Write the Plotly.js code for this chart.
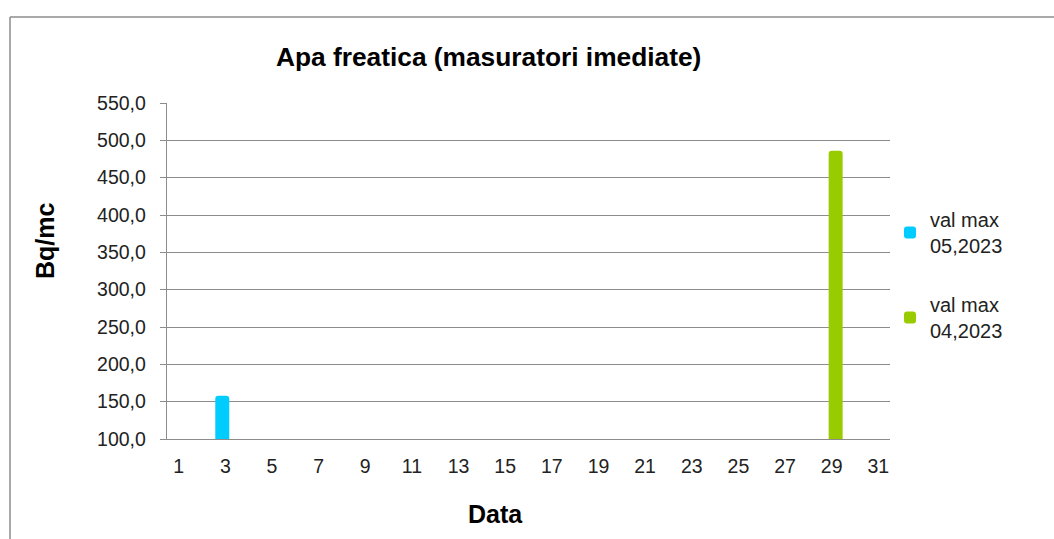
<!DOCTYPE html>
<html>
<head>
<meta charset="utf-8">
<script src="https://cdn.plot.ly/plotly-3.0.1.min.js"></script>
<style>html,body{margin:0;padding:0;background:#fff;}#chart{width:1054px;height:539px;}</style>
</head>
<body>
<div id="chart"></div>
<script>
const days = Array.from({length: 31}, (_, i) => i + 1);
const tickDays = [1,3,5,7,9,11,13,15,17,19,21,23,25,27,29,31];
const seriesNames = ["val max<br>05,2023", "val max<br>04,2023"];
const seriesColors = ["#00CCFF", "#99CC00"];
const valMay = [null,null,158,null,null,null,null,null,null,null,null,null,null,null,null,null,null,null,null,null,null,null,null,null,null,null,null,null,null,null,null];
const valApr = [null,null,null,null,null,null,null,null,null,null,null,null,null,null,null,null,null,null,null,null,null,null,null,null,null,null,null,null,486,null,null];
const yTicks = [100,150,200,250,300,350,400,450,500,550];

const font = "Liberation Sans, Arial, sans-serif";
const traces = [
  {type:'bar', x: days, y: valMay, name: seriesNames[0], width: 0.6, offset: -0.43, legendgroup: 'a',
   marker:{color: seriesColors[0], cornerradius: 3}, base: 0},
  {type:'bar', x: days, y: valApr, name: seriesNames[1], width: 0.6, offset: -0.13, legendgroup: 'b',
   marker:{color: seriesColors[1], cornerradius: 3}, base: 0}
];
const L = 167, R = 890, T = 103, B = 439, W = 1054, H = 539;
const pw = R - L, ph = B - T;
const px = v => (v - L) / pw;
const py = v => (B - v) / ph;
const layout = {
  width: W, height: H,
  margin: {l: L, r: W - R, t: T, b: H - B, pad: 0},
  paper_bgcolor: '#fff', plot_bgcolor: '#fff',
  separators: ',.',
  barmode: 'overlay',
  showlegend: true,
  font: {family: font, size: 19.5, color: '#222'},
  xaxis: {range: [0.5, 31.5], tickvals: tickDays, ticktext: tickDays.map(String),
    showgrid: false, showline: true, linecolor: '#8c8c8c', linewidth: 1.2, ticks: '',
    ticklabelstandoff: 9,
    zeroline: false, tickfont: {size: 19.5, color: '#222'}, fixedrange: true},
  yaxis: {range: [100, 550], tickvals: yTicks, tickformat: '.1f',
    showgrid: true, gridcolor: '#8c8c8c', gridwidth: 1, showline: true, linecolor: '#8c8c8c', linewidth: 1.2,
    ticks: 'outside', ticklen: 6, tickcolor: '#8c8c8c', tickwidth: 1, ticklabelstandoff: 10,
    zeroline: false, tickfont: {size: 19.5, color: '#222'}, fixedrange: true},
  legend: {x: px(890), y: py(200), xanchor: 'left', yanchor: 'top', font: {size: 20, color: '#222'},
    tracegroupgap: 30, itemwidth: 30, bgcolor: 'rgba(0,0,0,0)', traceorder: 'grouped'},
  annotations: [
    {text: '<b>Apa freatica (masuratori imediate)</b>', xref: 'paper', yref: 'paper',
     x: px(488), y: py(57), xanchor: 'center', yanchor: 'middle', showarrow: false,
     font: {size: 26.3, color: '#000'}},
    {text: '<b>Data</b>', xref: 'paper', yref: 'paper', x: px(495), y: py(514),
     xanchor: 'center', yanchor: 'middle', showarrow: false, font: {size: 25, color: '#000'}},
    {text: '<b>Bq/mc</b>', xref: 'paper', yref: 'paper', x: px(45), y: py(240), textangle: -90,
     xanchor: 'center', yanchor: 'middle', showarrow: false, font: {size: 25, color: '#000'}}
  ],
  shapes: [
    {type: 'line', xref: 'paper', yref: 'paper', x0: px(10), x1: px(1060), y0: py(17), y1: py(17),
     line: {color: '#8c8c8c', width: 1.5}},
    {type: 'line', xref: 'paper', yref: 'paper', x0: px(10), x1: px(10), y0: py(17), y1: py(545),
     line: {color: '#8c8c8c', width: 1.5}}
  ]
};
Plotly.newPlot('chart', traces, layout, {displayModeBar: false, staticPlot: true});
</script>
</body>
</html>
